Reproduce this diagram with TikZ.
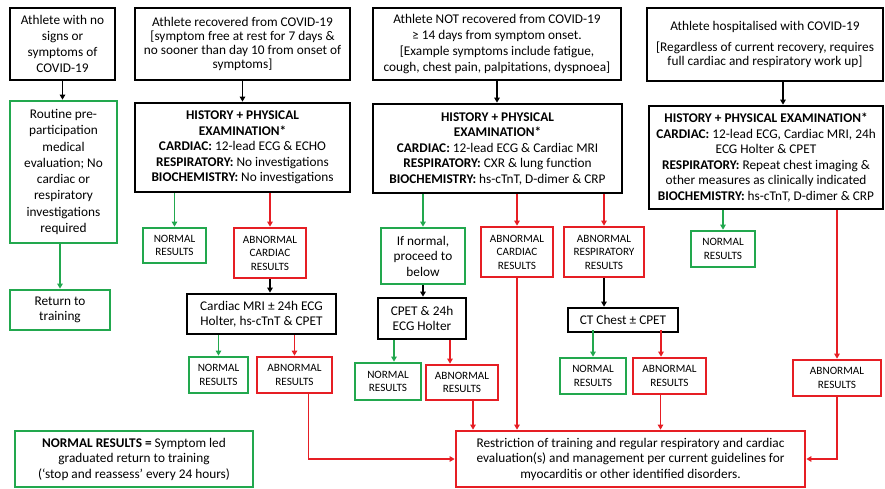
\documentclass[tikz,border=0pt]{standalone}
\usepackage{fontspec}
\setmainfont{Carlito}
\usepackage{xcolor}
\usepackage{tikz}
\usetikzlibrary{arrows.meta, positioning}
\definecolor{boxgreen}{RGB}{34,168,78}
\definecolor{boxred}{RGB}{230,30,36}

\begin{document}
\begin{tikzpicture}[x=1pt, y=-1pt,
  every node/.style={align=center, inner sep=0pt, font=\fontsize{13.3}{15.5}\selectfont},
  blkbox/.style={draw=black, line width=2.7pt, fill=white},
  grnbox/.style={draw=boxgreen, line width=2.7pt, fill=white},
  redbox/.style={draw=boxred, line width=2.7pt, fill=white},
  small/.style={font=\fontsize{11.2}{13.5}\selectfont},
  karr/.style={draw=black, line width=1.6pt, -{Triangle[length=5pt,width=5.5pt]}},
  garr/.style={draw=boxgreen, line width=1.6pt, -{Triangle[length=5pt,width=5.5pt]}},
  rarr/.style={draw=boxred, line width=1.6pt, -{Triangle[length=5pt,width=5.5pt]}}]
  \useasboundingbox (0,0) rectangle (885,489);

  \node[blkbox, minimum width=105, minimum height=72, font=\fontsize{13.3}{16}\selectfont] (b1) at (62.5,44) {Athlete with no\\ signs or\\ symptoms of\\ COVID-19};
  \node[blkbox, minimum width=215, minimum height=72, font=\fontsize{13.3}{13.8}\selectfont] (b2) at (242.5,44) {Athlete recovered from COVID-19\\ {[}symptom free at rest for 7 days \&\\ no sooner than day 10 from onset of\\ symptoms{]}};
  \node[blkbox, minimum width=248, minimum height=72, font=\fontsize{13.3}{16}\selectfont] (b3) at (497,44) {Athlete NOT recovered from COVID-19\\ ≥ 14 days from symptom onset.\\ {[}Example symptoms include fatigue,\\ cough, chest pain, palpitations, dyspnoea{]}};
  \node[blkbox, minimum width=236, minimum height=73, font=\fontsize{13.3}{14}\selectfont] (b4) at (765,44.5) {Athlete hospitalised with COVID-19\\[7pt] {[}Regardless of current recovery, requires\\ full cardiac and respiratory work up{]}};

  \node[grnbox, minimum width=107, minimum height=142, font=\fontsize{13.3}{16.3}\selectfont] (g1) at (63.5,172) {Routine pre-\\ participation\\ medical\\ evaluation; No\\ cardiac or\\ respiratory\\ investigations\\ required};
  \node[grnbox, minimum width=100, minimum height=40] (ret) at (60,310) {Return to\\ training};

  \node[blkbox, minimum width=215, minimum height=89] (h2) at (242.5,147.5) {\textbf{HISTORY + PHYSICAL}\\ \textbf{EXAMINATION*}\\ \textbf{CARDIAC:} 12-lead ECG \& ECHO\\ \textbf{RESPIRATORY:} No investigations\\ \textbf{BIOCHEMISTRY:} No investigations};
  \node[blkbox, minimum width=249, minimum height=89] (h3) at (497.5,148.5) {\textbf{HISTORY + PHYSICAL}\\ \textbf{EXAMINATION*}\\ \textbf{CARDIAC:} 12-lead ECG \& Cardiac MRI\\ \textbf{RESPIRATORY:} CXR \& lung function\\ \textbf{BIOCHEMISTRY:} hs-cTnT, D-dimer \& CRP};
  \node[blkbox, minimum width=234, minimum height=103] (h4) at (766,157.5) {\textbf{HISTORY + PHYSICAL EXAMINATION*}\\ \textbf{CARDIAC:} 12-lead ECG, Cardiac MRI, 24h\\ ECG Holter \& CPET\\ \textbf{RESPIRATORY:} Repeat chest imaging \&\\ other measures as clinically indicated\\ \textbf{BIOCHEMISTRY:} hs-cTnT, D-dimer \& CRP};

  \node[grnbox, small, minimum width=63, minimum height=35] (n2a) at (174.5,245.5) {NORMAL\\ RESULTS};
  \node[redbox, small, minimum width=72, minimum height=50] (a2a) at (270,253) {ABNORMAL\\ CARDIAC\\ RESULTS};
  \node[blkbox, minimum width=149, minimum height=40] (c2) at (261.5,314) {Cardiac MRI ± 24h ECG\\ Holter, hs-cTnT \& CPET};
  \node[grnbox, small, minimum width=59, minimum height=36] (n2b) at (218.5,375) {NORMAL\\ RESULTS};
  \node[redbox, small, minimum width=75, minimum height=36] (a2b) at (294.5,375) {ABNORMAL\\ RESULTS};

  \node[grnbox, minimum width=84, minimum height=56] (i3) at (423,256) {If normal,\\ proceed to\\ below};
  \node[redbox, small, minimum width=72, minimum height=50] (a3a) at (517,252) {ABNORMAL\\ CARDIAC\\ RESULTS};
  \node[redbox, small, minimum width=80, minimum height=50] (a3b) at (604,252) {ABNORMAL\\ RESPIRATORY\\ RESULTS};
  \node[blkbox, minimum width=88, minimum height=41] (p3) at (422,318.5) {CPET \& 24h\\ ECG Holter};
  \node[grnbox, small, minimum width=66, minimum height=37] (n3b) at (388,381.5) {NORMAL\\ RESULTS};
  \node[redbox, small, minimum width=72, minimum height=35] (a3c) at (462,382.5) {ABNORMAL\\ RESULTS};
  \node[blkbox, minimum width=110, minimum height=24] (ct) at (623,320) {CT Chest ± CPET};
  \node[grnbox, small, minimum width=66, minimum height=36] (n3c) at (593,376) {NORMAL\\ RESULTS};
  \node[redbox, small, minimum width=73, minimum height=36] (a3d) at (669.5,376) {ABNORMAL\\ RESULTS};

  \node[grnbox, small, minimum width=64, minimum height=36] (n4) at (723,249) {NORMAL\\ RESULTS};
  \node[redbox, small, minimum width=88, minimum height=36] (a4) at (837,378) {ABNORMAL\\ RESULTS};

  \node[grnbox, minimum width=238, minimum height=56] (nr) at (134,459) {\textbf{NORMAL RESULTS =} Symptom led\\ graduated return to training\\ (`stop and reassess' every 24 hours)};
  \node[redbox, minimum width=349, minimum height=56] (r) at (630.5,459) {Restriction of training and regular respiratory and cardiac\\ evaluation(s) and management per current guidelines for\\ myocarditis or other identified disorders.};

  \draw[karr] (b1.south) -- (b1.south |- g1.north);
  \draw[garr] (g1.south -| ret.north) -- (ret.north);
  \draw[karr] (b2.south) -- (b2.south |- h2.north);
  \draw[karr] (b3.south) -- (b3.south |- h3.north);
  \draw[karr] ([xshift=18]b4.south) -- ([xshift=18]b4.south |- h4.north);

  \draw[garr] (h2.south -| n2a.north) -- (n2a.north);
  \draw[rarr] (h2.south -| a2a.north) -- (a2a.north);
  \draw[karr] (a2a.south) -- (a2a.south |- c2.north);
  \draw[garr] (c2.south -| n2b.north) -- (n2b.north);
  \draw[rarr] (c2.south -| a2b.north) -- (a2b.north);

  \draw[garr] (h3.south -| i3.north) -- (i3.north);
  \draw[rarr] (h3.south -| a3a.north) -- (a3a.north);
  \draw[rarr] (h3.south -| a3b.north) -- (a3b.north);
  \draw[karr] (i3.south) -- (i3.south |- p3.north);
  \draw[garr] ([xshift=-28]p3.south) -- ([xshift=-28]p3.south |- n3b.north);
  \draw[rarr] ([xshift=28]p3.south) -- ([xshift=28]p3.south |- a3c.north);
  \draw[karr] (a3b.south) -- (a3b.south |- ct.north);
  \draw[garr] ([yshift=3]ct.south -| n3c.north) -- (n3c.north);
  \draw[rarr] ([xshift=38,yshift=3]ct.south) -- ([xshift=38]ct.south |- a3d.north);

  \draw[garr] (h4.south -| n4.north) -- (n4.north);
  \draw[rarr] (h4.south -| a4.north) -- (a4.north);

  \draw[rarr] ([xshift=14]a2b.south) |- (r.west);
  \draw[rarr] ([xshift=11]a3c.south) -- ([xshift=11]a3c.south |- r.north);
  \draw[rarr] (a3a.south) -- (a3a.south |- r.north);
  \draw[rarr] ([xshift=-9]a3d.south) -- ([xshift=-9]a3d.south |- r.north);
  \draw[rarr] (a4.south) |- (r.east);
\end{tikzpicture}
\end{document}
